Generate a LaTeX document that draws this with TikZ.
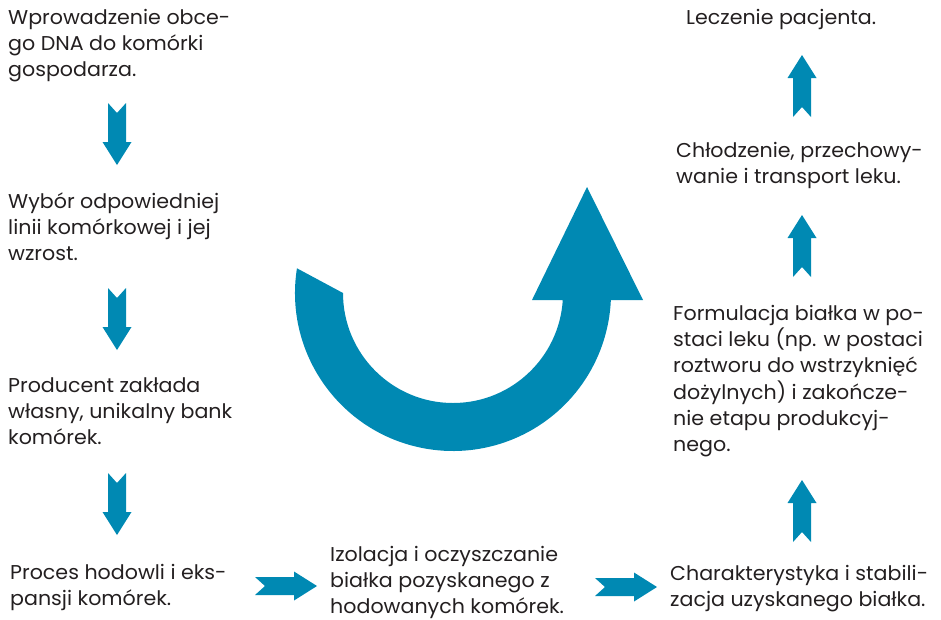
\documentclass[tikz,border=0pt]{standalone}
\usepackage{fontspec}
\setmainfont[FakeStretch=1.03]{Poppins}
\usetikzlibrary{calc}
\definecolor{arrowblue}{RGB}{0,137,179}
\definecolor{txt}{RGB}{35,31,32}
\newcommand\firstline{\rule{0pt}{16pt}}
\tikzset{
  x=1pt, y=-1pt,
  label text/.style={anchor=north west, inner sep=0pt, align=left, text=txt,
    font=\fontsize{20}{26.3}\selectfont},
  blockarrow/.pic={\fill[arrowblue] (0,-9) -- (39,-9) -- (39,-14.5) -- (62,0) -- (39,14.5) -- (39,9) -- (0,9) -- (10,0) -- cycle;}
}
\begin{document}
\begin{tikzpicture}
\useasboundingbox (0,0) rectangle (941,619);
% left column
\node[label text] (t1) at (8,8) {\firstline Wprowadzenie obce-\\go DNA do komórki\\gospodarza.};
\node[label text] (t2) at (8,192) {\firstline Wybór odpowiedniej\\linii komórkowej i jej\\wzrost.};
\node[label text] (t3) at (8,376) {\firstline Producent zakłada\\własny, unikalny bank\\komórek.};
\node[label text] (t4) at (10,563) {\firstline Proces hodowli i eks-\\pansji komórek.};
% bottom middle
\node[label text] (t5) at (330,545) {\firstline Izolacja i oczyszczanie\\białka pozyskanego z\\hodowanych komórek.};
% right column
\node[label text] (t6) at (670,564) {\firstline Charakterystyka i stabili-\\zacja uzyskanego białka.};
\node[label text] (t7) at (673,304) {\firstline Formulacja białka w po-\\staci leku (np. w postaci\\roztworu do wstrzyknięć\\dożylnych) i zakończe-\\nie etapu produkcyj-\\nego.};
\node[label text] (t8) at (676,141) {\firstline Chłodzenie, przechowy-\\wanie i transport leku.};
\node[label text] (t9) at (686,8) {\firstline Leczenie pacjenta.};
% block arrows
\pic[rotate=-90] at (117,103) {blockarrow};
\pic[rotate=-90] at (117,288) {blockarrow};
\pic[rotate=-90] at (117,473) {blockarrow};
\pic at (255,586) {blockarrow};
\pic at (595,587) {blockarrow};
\pic[rotate=90] at (802,542) {blockarrow};
\pic[rotate=90] at (802,277) {blockarrow};
\pic[rotate=90] at (802,117) {blockarrow};
% big curved arrow
\coordinate (c) at (453,293);
\fill[arrowblue] ($(c)+(189:158)$) arc[start angle=189, end angle=0, radius=158]
  -- (611,300) -- (643,300) -- (587,187) -- (532,300) -- (563,300) -- (563,293)
  arc[start angle=0, end angle=180, radius=110] -- cycle;
\end{tikzpicture}
\end{document}
